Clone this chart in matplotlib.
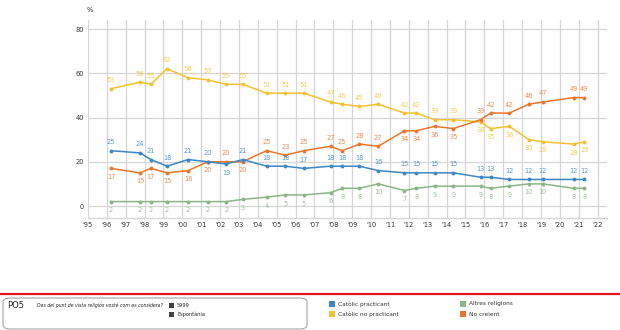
import matplotlib
matplotlib.use("Agg")
import matplotlib.pyplot as plt
from matplotlib.patches import FancyBboxPatch, Rectangle

# ---- data ----
dates = [1996.22, 1997.76, 1998.33, 1999.19, 2000.30, 2001.35, 2002.32, 2003.20,
         2004.46, 2005.45, 2006.44, 2007.85, 2008.47, 2009.38, 2010.38, 2011.77,
         2012.40, 2013.37, 2014.36, 2015.80, 2016.33, 2017.33, 2018.36, 2019.10,
         2020.73, 2021.30]
practicant = [25, 24, 21, 18, 21, 20, 19, 21, 18, 18, 17, 18, 18, 18, 16, 15,
              15, 15, 15, 13, 13, 12, 12, 12, 12, 12]
no_practicant = [53, 56, 55, 62, 58, 57, 55, 55, 51, 51, 51, 47, 46, 45, 46, 42,
                 42, 39, 39, 38, 35, 36, 30, 29, 28, 29]
altres = [2, 2, 2, 2, 2, 2, 2, 3, 4, 5, 5, 6, 8, 8, 10, 7, 8, 9, 9, 9, 8, 9,
          10, 10, 8, 8]
no_creient = [17, 15, 17, 15, 16, 20, 20, 20, 25, 23, 25, 27, 25, 28, 27, 34,
              34, 36, 35, 39, 42, 42, 46, 47, 49, 49]
series_names = ["Catòlic practicant", "Catòlic no practicant", "Altres religions", "No creient"]
year_ticks = list(range(1995, 2023))
y_ticks = [0, 20, 40, 60, 80]

# label sides (a = above, b = below)
side_practicant = "aaaaaabaaaaaaaaaaaaaaaaaaa"
side_no_practicant = "aaaaaaaaaaaaaaaaaaabbbbbbb"
side_altres = "b" * 26
side_no_creient = "bbbbbbabaaaaaaabbbbaaaaaaa"

col_blue = "#3d87c6"
col_yellow = "#f3c232"
col_green = "#8db58a"
col_orange = "#e8772e"

fig = plt.figure(figsize=(6.2, 3.3), dpi=100)
ax = fig.add_axes([88 / 620, (330 - 218) / 330, (607 - 88) / 620, (218 - 20) / 330])
ax.set_xlim(1995, 2022.5)
ax.set_ylim(-5.42, 84.07)

ax.set_xticks(year_ticks)
ax.set_xticklabels(["'" + str(y)[2:] for y in year_ticks])
ax.set_yticks(y_ticks)
ax.tick_params(axis="both", length=0, labelsize=4.8, colors="#333333", pad=3)
ax.grid(True, color="#d6d6d6", linewidth=0.9)
ax.set_axisbelow(True)
for s in ["top", "right", "left"]:
    ax.spines[s].set_visible(False)
ax.spines["bottom"].set_color("#d6d6d6")
ax.spines["bottom"].set_linewidth(0.9)

for vals, col, sides in [(no_practicant, col_yellow, side_no_practicant),
                         (no_creient, col_orange, side_no_creient),
                         (practicant, col_blue, side_practicant),
                         (altres, col_green, side_altres)]:
    ax.plot(dates, vals, color=col, linewidth=1.1, marker="o", markersize=1.8, zorder=3)
    for x, v, sd in zip(dates, vals, sides):
        off = 4 if sd == "a" else -4
        ax.annotate(str(v), (x, v), xytext=(0, off), textcoords="offset points",
                    ha="center", va="bottom" if sd == "a" else "top",
                    fontsize=4.8, color=col, alpha=0.85)

fig.text(90 / 620, 1 - 10 / 330, "%", fontsize=4.8, color="#333333", ha="center", va="center")

# ---- bottom panel ----
fig.add_artist(plt.Line2D([0, 1], [1 - 294 / 330, 1 - 294 / 330], color="#e8161b",
                          linewidth=1.6, transform=fig.transFigure))
box = FancyBboxPatch((3 / 620, 1 / 330), 304 / 620, 31 / 330,
                     boxstyle="round,pad=0,rounding_size=0.012",
                     transform=fig.transFigure, facecolor="white",
                     edgecolor="#9a9a9a", linewidth=0.7)
fig.add_artist(box)
fig.text(7 / 620, 1 - 306 / 330, "PO5", fontsize=6, color="#222222", va="center")
fig.text(37 / 620, 1 - 305 / 330, "Des del punt de vista religiós vostè com es considera?",
         fontsize=3.3, style="italic", color="#222222", va="center")
fig.add_artist(Rectangle((169 / 620, 1 - 308 / 330), 5 / 620, 5 / 330,
                         transform=fig.transFigure, facecolor="#444444", edgecolor="none"))
fig.add_artist(Rectangle((169 / 620, 1 - 317 / 330), 5 / 620, 5 / 330,
                         transform=fig.transFigure, facecolor="#444444", edgecolor="none"))
fig.text(177 / 620, 1 - 305.5 / 330, "5999", fontsize=3.6, color="#222222", va="center")
fig.text(177 / 620, 1 - 314.5 / 330, "Espontània", fontsize=3.6, color="#222222", va="center")

legend_items = [(329, 304, col_blue, series_names[0]),
                (329, 314, col_yellow, series_names[1]),
                (460, 304, col_green, series_names[2]),
                (460, 314, col_orange, series_names[3])]
for lx, ly, col, name in legend_items:
    fig.add_artist(Rectangle((lx / 620, 1 - (ly + 3) / 330), 6 / 620, 6 / 330,
                             transform=fig.transFigure, facecolor=col, edgecolor="none"))
    fig.text((lx + 9) / 620, 1 - ly / 330, name, fontsize=4.2, color="#333333", va="center")

fig.savefig("out.png", dpi=100)
